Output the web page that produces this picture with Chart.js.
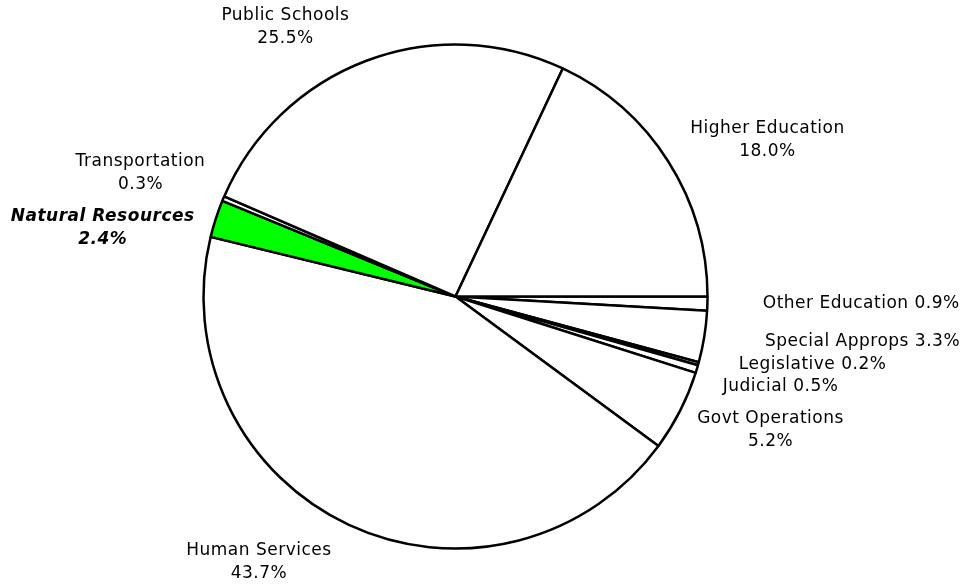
<!DOCTYPE html>
<html>
<head>
<meta charset="utf-8">
<script src="https://cdn.jsdelivr.net/npm/chart.js@4/dist/chart.umd.min.js"></script>
<style>
    html, body { margin: 0; padding: 0; background: #fff; }
    #wrap { width: 979px; height: 586px; }
</style>
</head>
<body>
<div id="wrap"><canvas id="chartPie"></canvas></div>
<script>
// slices, clockwise from 3 o'clock
const categories = [
    'Other Education',
    'Special Approps',
    'Legislative',
    'Judicial',
    'Govt Operations',
    'Human Services',
    'Natural Resources',
    'Transportation',
    'Public Schools',
    'Higher Education',
];
const shares = [0.9, 3.3, 0.2, 0.5, 5.2, 43.7, 2.4, 0.3, 25.5, 18.0];
const highlighted = 'Natural Resources';

// where each label sits, relative to the pie centre, in units of the radius
// oneLine: name and value on the same line
const labelLayout = {
    'Other Education':   { dx: 1.61, dy: 0.03, oneLine: true },
    'Special Approps':   { dx: 1.615, dy: 0.18, oneLine: true },
    'Legislative':       { dx: 1.417, dy: 0.27, oneLine: true },
    'Judicial':          { dx: 1.29, dy: 0.357, oneLine: true },
    'Govt Operations':   { dx: 1.25, dy: 0.53 },
    'Human Services':    { dx: -0.78, dy: 1.055 },
    'Natural Resources': { dx: -1.40, dy: -0.27 },
    'Transportation':    { dx: -1.25, dy: -0.49 },
    'Public Schools':    { dx: -0.675, dy: -1.07 },
    'Higher Education':  { dx: 1.238, dy: -0.62 },
};

const labelPlugin = {
    id: 'sliceLabels',
    afterDatasetsDraw(chart) {
        const {ctx} = chart;
        const arcs = chart.getDatasetMeta(0).data;
        const lineH = 23;
        ctx.save();
        ctx.fillStyle = '#000';
        ctx.textAlign = 'center';
        ctx.textBaseline = 'middle';
        ctx.letterSpacing = '0.5px';
        arcs.forEach((arc, i) => {
            const name = categories[i];
            const pos = labelLayout[name];
            const x = arc.x + pos.dx * arc.outerRadius;
            const y = arc.y + pos.dy * arc.outerRadius;
            const value = shares[i].toFixed(1) + '%';
            ctx.font = name === highlighted
                ? 'italic bold 17px "DejaVu Sans", Verdana, sans-serif'
                : '17px "DejaVu Sans", Verdana, sans-serif';
            if (pos.oneLine) {
                ctx.fillText(name + ' ' + value, x, y);
            } else {
                ctx.fillText(name, x, y - lineH / 2);
                ctx.fillText(value, x, y + lineH / 2);
            }
        });
        ctx.restore();
    }
};

const data = {
    labels: categories,
    datasets: [{
        data: shares,
        backgroundColor: categories.map(c => c === highlighted ? '#00ff00' : '#ffffff'),
        borderColor: '#000000',
        borderWidth: 2.5,
        hoverOffset: 0,
    }]
};

new Chart(document.getElementById('chartPie'), {
    type: 'pie',
    data,
    options: {
        responsive: true,
        maintainAspectRatio: false,
        animation: false,
        rotation: 90,
        radius: 252,
        layout: {
            padding: { left: 0, right: 68, top: 7, bottom: 0 }
        },
        plugins: {
            legend: { display: false },
            tooltip: { enabled: false },
        }
    },
    plugins: [labelPlugin]
});
</script>
</body>
</html>
